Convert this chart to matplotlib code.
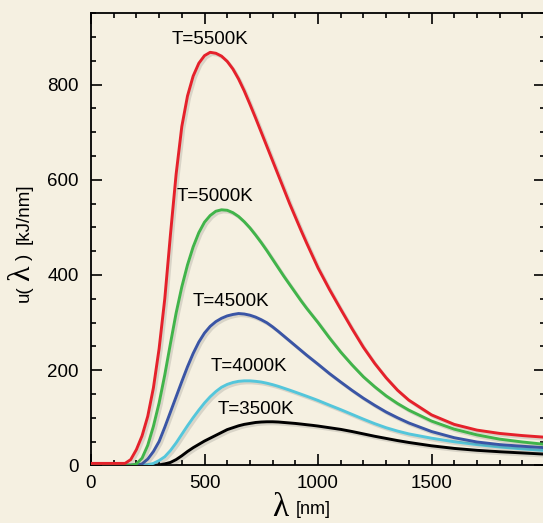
import matplotlib
matplotlib.use("Agg")
import matplotlib.pyplot as plt
import matplotlib.patheffects as pe
from matplotlib.ticker import MultipleLocator

# ---------------- data ----------------
wavelength_nm = [0, 100, 150, 175, 200, 225, 250, 275, 300, 325, 350, 375, 400, 425,
                 450, 475, 500, 525, 550, 575, 600, 625, 650, 675, 700, 725, 750,
                 775, 800, 825, 850, 875, 900, 925, 950, 975, 1000, 1050, 1100, 1150,
                 1200, 1250, 1300, 1350, 1400, 1500, 1600, 1700, 1800, 1900, 2000]

u_5500 = [4, 4, 4, 12, 33, 62, 103, 163, 245, 350, 485, 612, 712, 776,
          818, 845, 861, 868, 866, 860, 849, 833, 812, 787, 759, 730, 700,
          670, 640, 610, 580, 550, 522, 494, 467, 441, 415, 370, 328, 287,
          248, 214, 184, 158, 137, 106, 86, 74, 67, 62.5, 59]

u_5000 = [0, 0, 0, 0, 3, 15, 42, 82, 131, 190, 256, 320, 375, 421,
          459, 489, 511, 525, 534, 537, 536, 531, 523, 512, 499, 484, 468,
          451, 433, 415, 397, 380, 363, 346, 330, 315, 300, 268, 238, 211,
          186, 165, 146, 130, 116, 93, 76, 64, 55, 49, 44]

u_4500 = [0, 0, 0, 0, 0, 3, 13, 29, 50, 80, 112, 144, 176, 207,
          235, 259, 278, 292, 302, 309, 314, 317, 319, 318, 315.5, 311.5, 306,
          299.5, 291, 281.5, 271.5, 261.5, 251.5, 241.5, 231.5, 222, 212.5, 193, 175, 157.5,
          141, 126, 112, 100, 89, 71, 58, 49, 43.5, 40, 37]

u_4000 = [0, 0, 0, 0, 0, 0, 1, 4, 10, 18, 31, 47, 65, 83,
          100, 116, 131, 144, 155, 164, 170, 174, 176.5, 177.5, 177.5, 176.5, 175,
          172.5, 169.5, 166, 162, 158, 153.8, 149.5, 145.2, 140.8, 136.3, 126.5, 117, 107,
          97, 87.5, 79, 72, 66, 57, 49.5, 43.5, 38.5, 34.5, 31]

u_3500 = [0, 0, 0, 0, 0, 0, 0, 0, 1, 3, 6, 12, 20, 29,
          37, 44, 51, 57, 63, 69, 75, 79, 83, 86, 88, 90, 91,
          91.5, 91.5, 91, 90, 89, 88, 86.7, 85.3, 84, 82.5, 79, 75.5, 71,
          66, 61, 56.5, 52, 48, 41, 35.5, 31.5, 28.5, 26, 23.5]

series_labels = ["T=5500K", "T=5000K", "T=4500K", "T=4000K", "T=3500K"]
label_x = [526, 548, 618, 697, 728]
label_y = [894, 565, 345, 207, 117]

x_ticks = [0, 500, 1000, 1500]
y_ticks = [0, 200, 400, 600, 800]

# ---------------- style ----------------
bg = "#F5F0E1"
colors = ["#E5212B", "#41B44A", "#3A55A5", "#54C6DB", "#000000"]
series = [u_5500, u_5000, u_4500, u_4000, u_3500]

plt.rcParams["font.family"] = ["Liberation Sans", "DejaVu Sans"]

fig = plt.figure(figsize=(5.43, 5.23), dpi=100, facecolor=bg)
W, H = 543.0, 523.0
ax = fig.add_axes([91 / W, (H - 465.3) / H, (545 - 91) / W, 452 / H])
ax.set_facecolor(bg)

line_shadow = [pe.SimpleLineShadow(offset=(1.5, -1.5), alpha=0.18, shadow_color="#555555"),
               pe.Normal()]

# draw back-to-front so red is on top like the reference
for vals, c in zip(series[::-1], colors[::-1]):
    ax.plot(wavelength_nm, vals, color=c, lw=2.1, solid_joinstyle="round",
            solid_capstyle="round", path_effects=line_shadow, zorder=3)

for lab, lx, ly in zip(series_labels, label_x, label_y):
    ax.text(lx, ly, lab, fontsize=13.5, ha="center", va="center", color="black", zorder=4)

ax.set_xlim(0, 2000)
ax.set_ylim(0, 950)
ax.xaxis.set_minor_locator(MultipleLocator(100))
ax.yaxis.set_minor_locator(MultipleLocator(50))
ax.set_xticks(x_ticks)
ax.set_yticks(y_ticks)
ax.set_xticklabels([str(t) for t in x_ticks])
ax.set_yticklabels([str(t) for t in y_ticks])

ax.tick_params(which="both", direction="in", top=True, right=True, width=1.2, color="black")
ax.tick_params(which="major", length=8, labelsize=13.5)
ax.tick_params(axis="x", which="major", pad=7)
ax.tick_params(axis="y", which="major", pad=9)
ax.tick_params(which="minor", length=3.8)
for s in ax.spines.values():
    s.set_linewidth(1.3)
    s.set_color("black")

serif = ["Liberation Serif", "DejaVu Serif"]
# x label: big lambda + [nm]
fig.text(280.5 / W, 1 - 508 / H, "λ", fontsize=24, family=serif, ha="center", va="center")
fig.text(313 / W, 1 - 509 / H, "[nm]", fontsize=13, ha="center", va="center")

# y label (rotated pieces): u( λ )  [kJ/nm]
fig.text(24 / W, 1 - 294 / H, "u(", fontsize=13.5, rotation=90, ha="center", va="center")
fig.text(22 / W, 1 - 273 / H, "λ", fontsize=23, family=serif, rotation=90,
         ha="center", va="center")
fig.text(24 / W, 1 - 257 / H, ")", fontsize=13.5, rotation=90, ha="center", va="center")
fig.text(24 / W, 1 - 214 / H, "[kJ/nm]", fontsize=13.5, rotation=90, ha="center", va="center")

fig.savefig("out.png", dpi=100, facecolor=bg)
